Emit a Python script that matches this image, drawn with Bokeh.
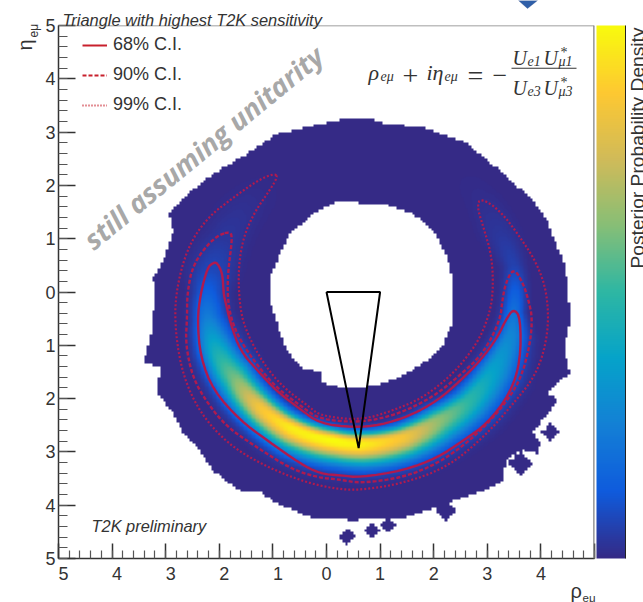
import numpy as np
from bokeh.plotting import figure
from bokeh.embed import file_html
from bokeh.resources import INLINE
from bokeh.models import (LinearColorMapper, ColorBar, FixedTicker, Label, Legend, LegendItem,
                          SingleIntervalTicker, Span, PolyAnnotation)

# ---- values (data units of the rho / eta plane) ----
tick_labels_x = {-5: "\u00a0\u00a05", -4: "\u00a0\u00a04", -3: "\u00a0\u00a03", -2: "\u00a0\u00a02", -1: "\u00a0\u00a01",
                 0: "0", 1: "1", 2: "2", 3: "3", 4: "4", 5: ""}
tick_labels_y = {-5: "5", -4: "4", -3: "3", -2: "2", -1: "1", 0: "0", 1: "1", 2: "2", 3: "3", 4: "4", 5: "5"}

outer_x = [.72,1.13,1.81,2.63,3.30,3.86,4.12,4.46,4.51,4.55,4.42,4.55,4.12,4.32,3.86,3.99,3.93,3.67,3.39,3.30,3.28,2.81,2.37,1.99,1.51,1.00,.50,.26,-.30,-.92,-1.24,-1.65,-2.11,-2.41,-2.67,-2.86,-3.16,-3.10,-3.42,-3.29,-3.23,-3.19,-3.23,-3.04,-2.86,-2.95,-2.73,-2.11,-1.48,-.92,-.25,.20]
outer_y = [3.27,3.16,3.09,2.79,2.22,1.72,1.34,.46,-.03,-.53,-1.10,-1.51,-1.90,-2.04,-2.64,-2.84,-3.03,-2.97,-3.10,-3.35,-3.57,-3.78,-3.91,-4.06,-4.23,-4.23,-4.29,-4.25,-4.23,-3.97,-3.76,-3.72,-3.35,-2.92,-2.65,-2.28,-1.90,-1.42,-1.32,-.91,-.40,-.16,.27,.59,1.15,1.47,1.72,2.22,2.60,2.97,3.12,3.22]
hole_x = [.44,1.06,1.62,1.99,2.25,2.37,2.37,2.18,1.88,1.43,.95,.50,.26,-.12,-.12,-.49,-.73,-.86,-.99,-1.05,-1.05,-.86,-.68,-.25,.26]
hole_y = [1.68,1.66,1.47,1.15,.65,.16,-.53,-.97,-1.29,-1.57,-1.75,-1.81,-1.79,-1.70,-1.51,-1.42,-1.10,-.78,-.35,-.16,.27,.72,1.09,1.47,1.72]
island_x = [4.18,3.62,2.22,1.15,.85,.39]
island_y = [-2.64,-3.22,-4.10,-4.38,-4.46,-4.59]
island_size = [.17,.24,.2,.15,.15,.16]

ridge_phi = [-160,-145,-117,-100,-90,-78,-65,-47,-30,-15,3,12,28,41,52,65,77,84,98,110,122,135]
ridge_r = [2.2,2.19,2.12,2.17,2.22,2.27,2.32,2.36,2.50,2.63,2.79,2.91,3.08,3.18,3.33,3.42,3.52,3.51,3.52,3.40,3.37,3.3]
ridge_peak = [0,.01,.035,.08,.14,.24,.40,.60,.85,.96,1.0,.98,.85,.64,.50,.37,.27,.20,.06,.03,.01,0]
sigma_in = [.27,.27,.27,.26,.22,.22,.25,.25,.21,.17,.15,.15,.16,.18,.18,.18,.16,.14,.14,.22,.22,.22]
sigma_out = [.27,.27,.27,.26,.18,.18,.22,.25,.25,.28,.28,.28,.29,.31,.31,.31,.22,.13,.14,.22,.22,.22]

c68_x = [-2.11,-2.22,-2.35,-2.41,-2.35,-2.11,-1.61,-1.10,-.49,-.12,.26,.63,1.43,2.07,2.55,3.00,3.43,3.62,3.62,3.49,3.34,3.19,2.87,2.50,2.07,1.56,1.00,.50,-.12,-.49,-.92,-1.29,-1.61,-1.79,-1.89,-1.92,-1.94,-2.04]
c68_y = [.55,.46,-.03,-.53,-1.23,-1.85,-2.41,-2.79,-3.22,-3.41,-3.44,-3.48,-3.35,-3.11,-2.79,-2.47,-1.90,-1.29,-.48,-.31,-.53,-.85,-1.29,-1.66,-2.04,-2.32,-2.50,-2.54,-2.47,-2.20,-1.87,-1.47,-1.10,-.59,-.16,-.03,.35,.55]
c90_x = [-1.79,-2.11,-2.49,-2.60,-2.60,-2.63,-2.50,-2.22,-1.85,-1.29,-.68,-.17,.26,.63,1.43,2.07,2.68,3.24,3.62,3.80,3.84,3.77,3.67,3.49,3.34,3.28,3.24,2.93,2.46,1.97,1.32,.63,-.12,-.41,-.92,-1.29,-1.61,-1.79,-1.85,-1.83,-1.76]
c90_y = [1.15,1.02,.53,-.03,-.48,-.97,-1.60,-2.09,-2.54,-2.92,-3.31,-3.48,-3.52,-3.59,-3.48,-3.22,-2.79,-2.22,-1.66,-.97,-.48,-.16,.16,.46,.16,-.16,-.53,-1.15,-1.59,-1.98,-2.30,-2.45,-2.39,-2.19,-1.81,-1.38,-.91,-.48,-.03,.46,.97]
c99_x = [-.90,-.99,-1.29,-1.74,-2.22,-2.60,-2.82,-2.82,-2.67,-2.35,-1.85,-1.24,-.49,.13,.63,1.43,2.25,2.93,3.49,3.93,4.14,4.12,3.93,3.62,3.24,2.87,2.81,2.93,3.09,3.11,3.02,2.81,2.37,1.81,1.25,.63,-.12,-.30,-.81,-1.18,-1.48,-1.61,-1.65,-1.57,-1.36,-1.10]
c99_y = [2.17,2.22,2.09,1.77,1.40,.83,-.03,-.78,-1.60,-2.28,-2.84,-3.22,-3.54,-3.69,-3.72,-3.59,-3.29,-2.73,-2.09,-1.53,-.78,-.03,.53,1.02,1.53,1.77,1.59,1.21,.65,-.03,-.48,-.97,-1.53,-1.98,-2.22,-2.41,-2.32,-2.17,-1.79,-1.34,-.78,-.35,.35,.97,1.47,1.85]
triangle_x = [0, 1, 0.6, 0]
triangle_y = [0, 0, -2.93, 0]
legend_labels = ["68% C.I.", "90% C.I.", "99% C.I."]

W, H = 643, 602
TEXT = "#333333"
SANS = "Liberation Sans"
SERIF = "Liberation Serif"

# ROOT "bird" palette
stops = np.linspace(0, 1, 9)
pr = [0.2082,0.0592,0.0780,0.0232,0.1802,0.5301,0.8186,0.9956,0.9764]
pg = [0.1664,0.3599,0.5041,0.6419,0.7178,0.7492,0.7328,0.7862,0.9832]
pb = [0.5293,0.8684,0.8385,0.7914,0.6425,0.4662,0.3499,0.1968,0.0539]
t = np.linspace(0, 1, 256)
palette = ["#%02x%02x%02x" % (int(255*np.interp(v, stops, pr)), int(255*np.interp(v, stops, pg)), int(255*np.interp(v, stops, pb))) for v in t]
mapper = LinearColorMapper(palette=palette, low=0, high=1, nan_color=(0, 0, 0, 0))


def inside(px, py, xs, ys):
    xs, ys = np.array(xs), np.array(ys)
    res = np.zeros(px.shape, bool)
    for i in range(len(xs)):
        x1, y1, x2, y2 = xs[i], ys[i], xs[(i+1) % len(xs)], ys[(i+1) % len(xs)]
        if y1 == y2:
            continue
        cond = ((y1 > py) != (y2 > py)) & (px < (x2-x1)*(py-y1)/(y2-y1)+x1)
        res ^= cond
    return res


def rounded(xs, ys, n=2):
    """Round the corners of a closed hand-read outline so that it draws as a curve."""
    a = np.column_stack([xs, ys])
    for _ in range(n):
        b = np.roll(a, -1, axis=0)
        a = np.column_stack([0.75*a+0.25*b, 0.25*a+0.75*b]).reshape(-1, 2)
    a = np.vstack([a, a[:1]])
    return a[:, 0], a[:, 1]


# histogram mask on coarse bins, density on a finer grid built from the read ridge table
nb = 200
cc = -5 + 10*(np.arange(nb)+.5)/nb
mx, my = np.meshgrid(cc, cc)
mask = inside(mx, my, outer_x, outer_y) & ~inside(mx, my, hole_x, hole_y)
for ix, iy, s in zip(island_x, island_y, island_size):
    mask |= (np.abs(mx-ix)+np.abs(my-iy)) < s
mask = np.repeat(np.repeat(mask, 2, axis=0), 2, axis=1)

fine = 400
fc = -5 + 10*(np.arange(fine)+.5)/fine
fx, fy = np.meshgrid(fc, fc)
phi = np.degrees(np.arctan2(fx, -fy))
r = np.hypot(fx, fy)
rc = np.interp(phi, ridge_phi, ridge_r)
pk = np.interp(phi, ridge_phi, ridge_peak)
si = np.interp(phi, ridge_phi, sigma_in)
so = np.interp(phi, ridge_phi, sigma_out)
sg = np.where(r < rc, si, so)
density = pk*np.exp(-(np.abs(r-rc)/(np.sqrt(2)*sg))**2.2)
density = np.where(mask, density, np.nan).astype("float32")

p = figure(width=W, height=H, x_range=(-5, 5), y_range=(-5, 5), output_backend="svg",
           toolbar_location=None, tools="", min_border_left=58, min_border_right=49,
           min_border_top=25, min_border_bottom=44, background_fill_color="white",
           border_fill_color="white", outline_line_color=None)
p.styles = {"position": "absolute", "left": "0px", "top": "0px"}
p.grid.visible = False

p.image(image=[density], x=-5, y=-5, dw=10, dh=10, color_mapper=mapper)

CRED = "#b01a4e"
LRED = "#c8202c"
p.line(*rounded(c68_x, c68_y), line_color=CRED, line_width=2.4)
p.line(*rounded(c90_x, c90_y), line_color=CRED, line_width=2.4, line_dash="4 2")
p.line(*rounded(c99_x, c99_y), line_color=CRED, line_width=2.2, line_dash="2 2")
p.line(triangle_x, triangle_y, line_color="black", line_width=2)

d1 = p.line([np.nan], [np.nan], line_color=LRED, line_width=2)
d2 = p.line([np.nan], [np.nan], line_color=LRED, line_width=2, line_dash="4 2")
d3 = p.line([np.nan], [np.nan], line_color=LRED, line_width=2, line_dash="1 2")
legend = Legend(items=[LegendItem(label=l, renderers=[r_]) for l, r_ in zip(legend_labels, [d1, d2, d3])],
                location=(24, 443), border_line_color=None, background_fill_alpha=0, padding=0, margin=0,
                glyph_width=25, glyph_height=20, label_height=20, label_standoff=6, spacing=9,
                label_text_font=SANS, label_text_font_size="18px", label_text_color=TEXT)
p.add_layout(legend, "center")

for ax, ln, mn, lab in ((p.xaxis[0], 15, 8, tick_labels_x), (p.yaxis[0], 17, 9, tick_labels_y)):
    ax.ticker = SingleIntervalTicker(interval=1, num_minor_ticks=5)
    ax.major_label_overrides = lab
    ax.major_tick_in = ln
    ax.major_tick_out = 0
    ax.minor_tick_in = mn
    ax.minor_tick_out = 0
    ax.major_tick_line_color = "#333333"
    ax.minor_tick_line_color = "#555555"
    ax.major_tick_line_width = 1.5
    ax.minor_tick_line_width = 1.2
    ax.axis_line_color = "#333333"
    ax.axis_line_width = 1.5
    ax.major_label_text_font = SANS
    ax.major_label_text_font_size = "18px"
    ax.major_label_text_color = TEXT
p.xaxis[0].major_label_standoff = 5
p.yaxis[0].major_label_standoff = 3

p.add_layout(Span(location=5, dimension="height", line_color="#808080", line_width=2.5))
p.add_layout(Span(location=5, dimension="width", line_color="#808080", line_width=1.5))

cb = ColorBar(color_mapper=mapper, width=29, height=533, padding=0, margin=2, location=(2, 0),
              ticker=FixedTicker(ticks=[]), major_tick_line_color=None, minor_tick_line_color=None,
              major_label_text_font_size="0px", bar_line_color=None,
              border_line_color=None, background_fill_color="white")
p.add_layout(cb, "right")

# transparent sheet over the whole page that carries the free texts (its data units are page pixels)
q = figure(width=W, height=H, x_range=(0, W), y_range=(H, 0), output_backend="svg", toolbar_location=None,
           tools="", min_border=0, x_axis_location=None, y_axis_location=None,
           background_fill_alpha=0, border_fill_alpha=0, outline_line_color=None)
q.grid.visible = False
q.styles = {"position": "absolute", "left": "0px", "top": "0px", "pointer-events": "none"}


def txt(s, x, y, size, style="normal", font=SANS, color=TEXT, align="left", base="alphabetic", angle=0):
    q.add_layout(Label(x=x, y=y, text=s, text_font=font,
                       text_font_size=f"{size}px", text_font_style=style, text_color=color,
                       text_align=align, text_baseline=base, angle=angle, angle_units="deg"))


txt("Triangle with highest T2K sensitivity", 62, 19, 16.4, "italic")
txt("T2K preliminary", 91, 525, 16.4, "italic")
txt("still assuming unitarity", 203, 147, 27.5, "bold italic", font="Open Sans", color="#a8a8a8",
    align="center", base="middle", angle=39.5)
txt("Posterior Probability Density", 637, 268, 19.2, angle=90)
txt("\u03c1", 570, 590, 20)
txt("e\u03bc", 582, 597, 11.5)
txt("\u03b7", 24, 50, 20, angle=90)
txt("e\u03bc", 33, 37, 12, angle=90)

# equation
txt("\u03c1", 368, 72, 22, "italic", SERIF)
txt("e\u03bc", 380, 76, 14, "italic", SERIF)
txt("+", 402, 75, 28, "normal", SERIF)
txt("i\u03b7", 426, 72, 22, "italic", SERIF)
txt("e\u03bc", 444, 76, 14, "italic", SERIF)
txt("=", 467, 75, 28, "normal", SERIF)
txt("\u2212", 492, 75, 26, "normal", SERIF)
for yb, idx1, idx2 in ((57, "e1", "\u03bc1"), (87, "e3", "\u03bc3")):
    txt("U", 512, yb, 20, "italic", SERIF)
    txt(idx1, 527, yb+3, 14, "italic", SERIF)
    txt("U", 543, yb, 20, "italic", SERIF)
    txt(idx2, 558, yb+4, 14, "italic", SERIF)
    txt("*", 560, yb-5, 14, "normal", SERIF)


def poly(xs, ys, **kw):
    q.add_layout(PolyAnnotation(xs=xs, ys=ys, fill_alpha=1, **kw))


poly([511, 576, 576, 511], [67.2, 67.2, 68.2, 68.2], fill_color=TEXT, line_color=None)
poly([518, 527, 537], [0, 8, 0], fill_color="#2f5fa8", line_color="#1f3f80")
poly([624.5, 625.5, 625.5, 624.5], [25, 25, 558, 558], fill_color="#222222", line_color=None)

open("out.html", "w").write(file_html([p, q], INLINE))
